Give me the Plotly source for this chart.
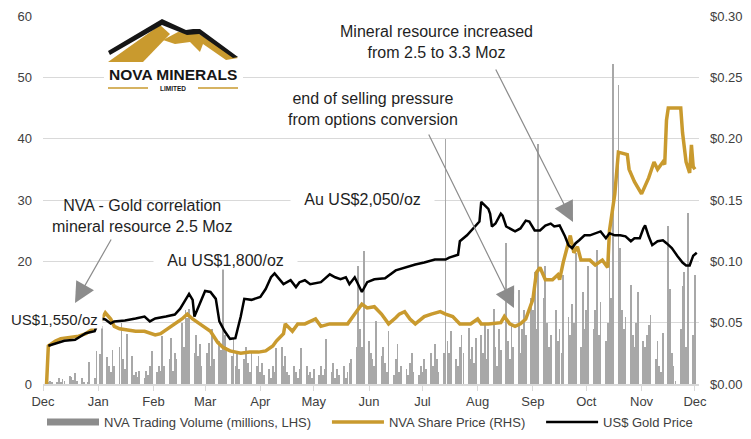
import pandas as pd
import plotly.graph_objects as go

# fonts and colours
font_family = "Liberation Sans, Arial, sans-serif"
text_color  = "#1f1f1f"
tick_color  = "#404040"
grid_color  = "#d9d9d9"
gold_color  = "#c99a2e"
vol_color   = "#a8a8a8"
arrow_color = "#8c8c8c"

# x axis month labels
month_ticks  = pd.date_range("2019-12-01", "2020-12-01", freq="MS")
month_labels = ["Dec", "Jan", "Feb", "Mar", "Apr", "May", "Jun",
                "Jul", "Aug", "Sep", "Oct", "Nov", "Dec"]

# NVA share price, A$ (RHS)
share_dates = [
    "2019-12-03", "2019-12-04", "2019-12-08", "2019-12-11", "2019-12-16", "2019-12-21", "2019-12-25", "2019-12-29", "2019-12-31",
    "2020-01-03", "2020-01-05", "2020-01-08", "2020-01-10", "2020-01-13", "2020-01-18", "2020-01-22", "2020-01-27",
    "2020-02-02", "2020-02-05", "2020-02-09", "2020-02-13", "2020-02-17", "2020-02-20", "2020-02-23", "2020-02-27",
    "2020-03-04", "2020-03-08", "2020-03-11", "2020-03-15", "2020-03-21", "2020-03-26", "2020-03-31",
    "2020-04-04", "2020-04-08", "2020-04-10", "2020-04-14", "2020-04-15", "2020-04-19", "2020-04-22", "2020-04-26",
    "2020-05-02", "2020-05-05", "2020-05-10", "2020-05-16", "2020-05-20", "2020-05-24", "2020-05-28", "2020-05-31",
    "2020-06-04", "2020-06-08", "2020-06-12", "2020-06-16", "2020-06-18", "2020-06-21", "2020-06-24", "2020-06-27", "2020-06-30",
    "2020-07-02", "2020-07-06", "2020-07-11", "2020-07-14", "2020-07-18", "2020-07-22", "2020-07-28",
    "2020-08-01", "2020-08-03", "2020-08-07", "2020-08-14", "2020-08-16", "2020-08-19", "2020-08-22", "2020-08-25", "2020-08-28",
    "2020-09-01", "2020-09-03", "2020-09-05", "2020-09-08", "2020-09-12", "2020-09-15", "2020-09-16", "2020-09-18", "2020-09-20",
    "2020-09-22", "2020-09-24", "2020-09-26", "2020-09-28",
    "2020-10-03", "2020-10-06", "2020-10-10", "2020-10-13", "2020-10-14", "2020-10-17", "2020-10-19", "2020-10-24", "2020-10-25", "2020-10-28",
    "2020-11-01", "2020-11-05", "2020-11-08", "2020-11-10", "2020-11-13", "2020-11-14", "2020-11-15", "2020-11-16", "2020-11-23",
    "2020-11-24", "2020-11-26", "2020-11-28", "2020-11-29", "2020-11-30",
    "2020-12-01",
]
share_price = [
    0.000, 0.031, 0.035, 0.037, 0.038, 0.039, 0.041, 0.045, 0.047,
    0.053, 0.058, 0.053, 0.047, 0.045, 0.044, 0.043, 0.043,
    0.040, 0.041, 0.045, 0.049, 0.053, 0.057, 0.053, 0.049,
    0.043, 0.034, 0.030, 0.027, 0.025, 0.026, 0.026,
    0.027, 0.031, 0.035, 0.041, 0.049, 0.043, 0.049, 0.049,
    0.053, 0.047, 0.049, 0.049, 0.049, 0.057, 0.065, 0.062,
    0.063, 0.057, 0.049, 0.054, 0.057, 0.059, 0.053, 0.049, 0.053,
    0.055, 0.057, 0.059, 0.057, 0.055, 0.049, 0.049,
    0.053, 0.049, 0.049, 0.050, 0.055, 0.049, 0.047, 0.049, 0.053,
    0.069, 0.091, 0.095, 0.085, 0.085, 0.089, 0.085, 0.099, 0.109,
    0.121, 0.107, 0.112, 0.101,
    0.101, 0.097, 0.101, 0.095, 0.125, 0.155, 0.189, 0.187, 0.175, 0.165,
    0.155, 0.168, 0.181, 0.175, 0.181, 0.179, 0.215, 0.225, 0.225,
    0.205, 0.181, 0.172, 0.195, 0.177,
    0.175,
]

# US$ gold price, US$/oz
gold_dates = [
    "2019-12-04", "2019-12-08", "2019-12-13", "2019-12-19", "2019-12-22", "2019-12-25", "2019-12-30",
    "2020-01-02", "2020-01-05", "2020-01-08", "2020-01-10", "2020-01-16", "2020-01-22", "2020-01-27", "2020-01-30",
    "2020-02-02", "2020-02-08", "2020-02-13", "2020-02-16", "2020-02-19", "2020-02-21", "2020-02-23", "2020-02-24", "2020-02-27",
    "2020-03-01", "2020-03-04", "2020-03-07", "2020-03-09", "2020-03-12", "2020-03-15", "2020-03-18", "2020-03-21", "2020-03-23", "2020-03-27",
    "2020-04-01", "2020-04-04", "2020-04-07", "2020-04-09", "2020-04-14", "2020-04-18", "2020-04-21", "2020-04-23", "2020-04-26", "2020-04-29",
    "2020-05-05", "2020-05-10", "2020-05-13", "2020-05-16", "2020-05-19", "2020-05-21", "2020-05-24", "2020-05-28", "2020-05-31",
    "2020-06-04", "2020-06-10", "2020-06-16", "2020-06-21", "2020-06-27",
    "2020-07-02", "2020-07-08", "2020-07-14", "2020-07-16", "2020-07-21", "2020-07-22", "2020-07-26", "2020-07-31",
    "2020-08-02", "2020-08-03", "2020-08-05", "2020-08-07", "2020-08-08", "2020-08-09", "2020-08-11", "2020-08-14", "2020-08-15",
    "2020-08-17", "2020-08-22", "2020-08-25", "2020-08-28", "2020-08-30",
    "2020-09-02", "2020-09-05", "2020-09-08", "2020-09-11", "2020-09-13", "2020-09-16", "2020-09-19", "2020-09-21", "2020-09-23",
    "2020-09-25", "2020-09-27", "2020-09-30",
    "2020-10-03", "2020-10-06", "2020-10-09", "2020-10-12", "2020-10-14", "2020-10-17", "2020-10-20", "2020-10-23", "2020-10-26",
    "2020-10-28", "2020-10-31",
    "2020-11-02", "2020-11-03", "2020-11-05", "2020-11-07", "2020-11-10", "2020-11-13", "2020-11-15", "2020-11-18", "2020-11-21",
    "2020-11-24", "2020-11-26", "2020-11-28", "2020-11-30",
    "2020-12-02",
]
gold_price = [
    1456, 1464, 1476, 1480, 1495, 1507, 1515,
    1567, 1563, 1547, 1555, 1559, 1567, 1575, 1555,
    1567, 1575, 1583, 1607, 1643, 1667, 1643, 1575, 1627,
    1679, 1675, 1647, 1555, 1515, 1484, 1487, 1575, 1647, 1643,
    1655, 1687, 1735, 1751, 1707, 1723, 1695, 1715, 1723, 1707,
    1715, 1747, 1735, 1727, 1735, 1707, 1735, 1675, 1715,
    1727, 1731, 1763, 1775, 1787,
    1795, 1807, 1807, 1815, 1827, 1882, 1906, 1946,
    1962, 2042, 2026, 2014, 1994, 1942, 1954, 1994, 1986,
    1942, 1922, 1934, 1966, 1962,
    1926, 1926, 1946, 1954, 1942, 1946, 1902, 1866, 1854,
    1874, 1886, 1906,
    1906, 1914, 1922, 1894, 1914, 1906, 1906, 1902, 1882,
    1894, 1894,
    1934, 1946, 1902, 1866, 1882, 1886, 1874, 1854, 1823,
    1795, 1783, 1783, 1823,
    1835,
]

# NVA trading volume (millions, LHS), one value per weekday
vol_dec19 = [0.0, 0.0, 0.3, 0.5, 0.4, 0.3, 0.9, 0.3, 0.8, 0.5, 1.3, 1.1, 0.6, 1.8, 0.5, 0.9, 0.4, 0.0, 0.3, 3.6, 1.0, 5.4]
vol_jan20 = [0.0, 4.9, 9.4, 4.4, 3.0, 2.0, 5.5, 3.0, 6.0, 9.9, 4.0, 2.5, 8.1, 4.6, 1.5, 2.0, 1.2, 2.2, 1.0, 2.2, 1.5, 3.0, 5.4]
vol_feb20 = [2.0, 3.0, 2.2, 7.8, 3.0, 4.0, 7.5, 2.2, 5.0, 4.0, 9.9, 6.0, 12.1, 10.7, 12.3, 5.0, 8.0, 4.5, 6.5, 3.0]
vol_mar20 = [5.0, 6.7, 3.0, 9.0, 4.0, 7.0, 5.5, 18.7, 8.0, 6.0, 4.5, 7.5, 3.0, 5.0, 2.5, 4.0, 6.0, 3.5, 2.0, 5.0, 3.0, 4.5]
vol_apr20 = [2.0, 3.5, 1.5, 2.5, 1.0, 3.0, 2.0, 5.9, 6.0, 3.0, 4.6, 2.0, 1.5, 3.0, 2.0, 1.0, 2.5, 5.9, 3.0, 1.5, 2.0, 1.0]
vol_may20 = [2.5, 1.5, 3.0, 1.5, 2.5, 7.3, 2.0, 3.5, 1.0, 2.5, 1.5, 3.0, 1.0, 2.0, 3.5, 4.0, 6.0, 19.3, 9.0, 6.0, 21.7]
vol_jun20 = [7.0, 5.0, 4.0, 3.0, 10.2, 4.5, 6.0, 3.5, 2.0, 8.6, 1.5, 4.0, 6.5, 2.0, 3.0, 2.5, 1.5, 3.5, 5.0, 2.0, 1.5, 3.0]
vol_jul20 = [2.0, 4.0, 2.5, 5.0, 3.0, 6.5, 4.0, 2.0, 5.0, 40.0, 7.0, 5.0, 8.6, 4.0, 3.0, 6.0, 8.0, 5.0, 9.1, 4.0, 6.0, 3.5, 7.5]
vol_aug20 = [8.0, 5.0, 10.0, 4.0, 9.0, 12.3, 6.0, 3.0, 9.0, 5.5, 23.0, 7.0, 4.0, 10.0, 6.0, 15.3, 5.0, 9.0, 12.0, 8.0, 14.0]
vol_sep20 = [12.0, 18.2, 9.0, 39.2, 14.0, 19.3, 10.0, 6.0, 8.0, 12.0, 7.0, 9.0, 5.0, 17.7, 11.0, 8.0, 13.0, 10.0, 21.4, 6.0, 15.0, 9.0]
vol_oct20 = [12.0, 19.3, 9.0, 12.0, 21.9, 8.0, 13.4, 7.0, 10.0, 21.4, 14.0, 52.2, 48.8, 22.2, 12.0, 9.0, 11.0, 16.1, 8.0, 6.0, 10.0, 15.0]
vol_nov20 = [7.0, 6.0, 8.0, 9.7, 11.3, 4.0, 7.0, 3.0, 2.0, 8.3, 25.7, 15.5, 5.0, 3.0, 0.5, 9.0, 16.0, 18.2, 6.0, 27.8, 8.0]
vol_dec20 = [17.7]

volume = (vol_dec19 + vol_jan20 + vol_feb20 + vol_mar20 + vol_apr20 + vol_may20
          + vol_jun20 + vol_jul20 + vol_aug20 + vol_sep20 + vol_oct20 + vol_nov20 + vol_dec20)
vol_dates = pd.bdate_range("2019-12-02", "2020-12-01")

# the page body puts 8px round the figure, so the layout below is worked
# out in page pixels and shifted back by that offset
page_off = 8
fig_w, fig_h = 751 - page_off, 439 - page_off
plot_l, plot_r, plot_t, plot_b = 43, 699, 16, 384

def pxx(x):
    return (x - plot_l) / (plot_r - plot_l)

def pxy(y):
    return (plot_b - y) / (plot_b - plot_t)

def logo_path(points):
    return "M" + "L".join(f"{pxx(x):.4f},{pxy(y):.4f}" for x, y in points) + "Z"


fig = go.Figure()

fig.add_trace(go.Bar(
    x=vol_dates,
    y=volume,
    width=0.42 * 86400000,
    marker=dict(color=vol_color, line=dict(width=0)),
    showlegend=False,
    hoverinfo="skip",
))

# legend swatch for the volume bars
pad = "\u00a0" * 3
fig.add_trace(go.Scatter(
    x=[None], y=[None],
    mode="lines",
    line=dict(color="#8c8c8c", width=7),
    name="NVA Trading Volume (millions, LHS)" + pad,
))

fig.add_trace(go.Scatter(
    x=share_dates,
    y=share_price,
    yaxis="y2",
    mode="lines",
    line=dict(color=gold_color, width=3.5),
    name="NVA Share Price (RHS)" + pad,
))

fig.add_trace(go.Scatter(
    x=gold_dates,
    y=gold_price,
    yaxis="y3",
    mode="lines",
    line=dict(color="black", width=2.5),
    name="US$ Gold Price",
))

note_font = dict(size=16, color=text_color, family=font_family)
nb = "\u00a0"

notes = [
    dict(text="NVA - Gold correlation<br>mineral resource 2.5 Moz", x=pxx(142), y=pxy(216)),
    dict(text=nb * 3 + "Au US$1,800/oz" + nb * 3, x=pxx(225), y=pxy(260), bgcolor="white"),
    dict(text=nb * 3 + "Au US$2,050/oz" + nb * 3, x=pxx(362), y=pxy(199), bgcolor="white"),
    dict(text="US$1,550/oz" + nb, x=pxx(9.5), y=pxy(319), xanchor="left", bgcolor="white",
         font=dict(size=15, color=text_color, family=font_family)),
    dict(text="end of selling pressure<br>from options conversion", x=pxx(373), y=pxy(109)),
    dict(text="Mineral resource increased<br>from 2.5 to 3.3 Moz", x=pxx(436), y=pxy(42)),
]
for n in notes:
    n.setdefault("xanchor", "center")
    n.setdefault("font", note_font)
    fig.add_annotation(
        xref="paper", yref="paper",
        yanchor="middle",
        showarrow=False,
        borderpad=0,
        **n
    )

# arrows: tip in paper coords, tail offset in pixels
arrows = [
    (75, 303, 37, -65),
    (514, 308, -86, -175),
    (573, 222, -78, -154),
]
for tx, ty, ax, ay in arrows:
    fig.add_annotation(
        x=pxx(tx), y=pxy(ty), xref="paper", yref="paper",
        ax=ax, ay=ay, text="",
        showarrow=True, arrowhead=2, arrowsize=3.4,
        arrowwidth=1.2, arrowcolor=arrow_color,
    )

# company logo
fig.add_shape(type="rect", xref="paper", yref="paper",
              x0=pxx(104), x1=pxx(243), y0=pxy(95), y1=pxy(17),
              fillcolor="white", line=dict(width=0), layer="above")
fig.add_shape(type="path", xref="paper", yref="paper", layer="above",
              path=logo_path([(108, 62), (160, 25), (170, 34), (143, 62)]),
              fillcolor=gold_color, line=dict(width=0))
fig.add_shape(type="path", xref="paper", yref="paper", layer="above",
              path=logo_path([(163, 40), (178, 32), (199, 34), (238, 58), (226, 60),
                              (203, 44), (200, 52), (190, 42), (175, 44)]),
              fillcolor=gold_color, line=dict(width=0))
fig.add_shape(type="path", xref="paper", yref="paper", layer="above",
              path=logo_path([(108, 51), (162, 19), (186, 30), (193, 29), (200, 29), (238, 57),
                              (233, 58), (199, 34), (187, 35), (162, 25), (110, 55)]),
              fillcolor="#161616", line=dict(width=0))
for x0, x1 in [(108, 148), (198, 238)]:
    fig.add_shape(type="line", xref="paper", yref="paper", layer="above",
                  x0=pxx(x0), x1=pxx(x1), y0=pxy(88), y1=pxy(88),
                  line=dict(color=gold_color, width=1.5))
fig.add_annotation(text="<b>NOVA MINERALS</b>", x=pxx(173), y=pxy(74), xref="paper", yref="paper",
                   xanchor="center", yanchor="middle", showarrow=False,
                   font=dict(size=15.5, color="#161616", family=font_family))
fig.add_annotation(text="<b>LIMITED</b>", x=pxx(173), y=pxy(88), xref="paper", yref="paper",
                   xanchor="center", yanchor="middle", showarrow=False,
                   font=dict(size=6.5, color="#161616", family=font_family))

fig.update_layout(
    width=fig_w,
    height=fig_h,
    margin=dict(l=plot_l - page_off, r=751 - plot_r, t=plot_t - page_off, b=439 - plot_b),
    paper_bgcolor="white",
    plot_bgcolor="white",
    font=dict(family=font_family, size=13, color=tick_color),
    bargap=0,
    # container refs keep the legend from pushing the bottom margin
    legend=dict(
        orientation="h",
        xref="container", yref="container",
        x=(42 - page_off) / fig_w, xanchor="left",
        y=(439 - 422) / fig_h, yanchor="middle",
        itemwidth=52,
        bgcolor="rgba(0,0,0,0)",
        font=dict(size=13, color=tick_color, family=font_family),
    ),
    xaxis=dict(
        type="date",
        range=["2019-12-01", "2020-12-03 06:00"],
        tickvals=month_ticks,
        ticktext=month_labels,
        ticks="outside", ticklen=5, tickcolor=grid_color,
        showline=True, linecolor=grid_color, linewidth=1.5,
        showgrid=False, zeroline=False, automargin=False,
        tickfont=dict(size=13, color=tick_color),
    ),
    yaxis=dict(
        range=[0, 60], dtick=10,
        showgrid=True, gridcolor=grid_color, gridwidth=1.3,
        zeroline=False, ticklabelstandoff=10, automargin=False,
        tickfont=dict(size=13, color=tick_color),
    ),
    yaxis2=dict(
        range=[0, 0.30], dtick=0.05, tickformat="$.2f",
        overlaying="y", side="right",
        showgrid=False, zeroline=False, ticklabelstandoff=10, automargin=False,
        tickfont=dict(size=13, color=tick_color),
    ),
    yaxis3=dict(range=[1300, 2800], overlaying="y", visible=False),
)

fig.write_html("out.html")
